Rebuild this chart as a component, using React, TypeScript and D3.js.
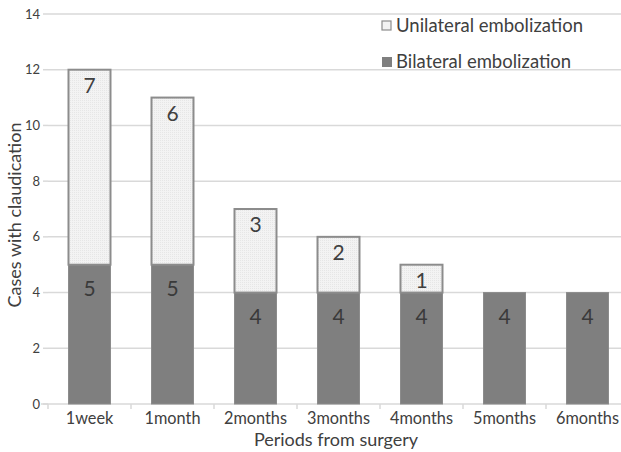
import * as d3 from 'd3';

const categories = ['1week', '1month', '2months', '3months', '4months', '5months', '6months'];
const bilateral = [5, 5, 4, 4, 4, 4, 4];
const unilateral = [7, 6, 3, 2, 1, 0, 0];
const yTicks = [0, 2, 4, 6, 8, 10, 12, 14];
const seriesNames = ['Unilateral embolization', 'Bilateral embolization'];

const W = 621;
const H = 452;
const FONT = 'Lato, "Open Sans", sans-serif';
const TEXT = '#404040';

export default function App() {
  const x = d3.scaleBand<string>().domain(categories).range([48, 629]).paddingInner(0.494).paddingOuter(0.247);
  const y = d3.scaleLinear().domain([0, 14]).range([404, 14]);

  const stacked = categories.map((c, i) => ({
    cat: c,
    segs: [
      { key: 'bi', y0: 0, y1: bilateral[i], v: bilateral[i] },
      { key: 'uni', y0: bilateral[i], y1: bilateral[i] + unilateral[i], v: unilateral[i] },
    ],
  }));

  const step = x.step();
  const start = x.range()[0];

  return (
    <svg width={W} height={H} style={{ position: 'absolute', left: 0, top: 0, background: '#fff' }}>
      <defs>
        <pattern id="dots" width="2" height="2" patternUnits="userSpaceOnUse">
          <rect width="2" height="2" fill="#f3f3f3" />
          <rect width="1" height="1" fill="#e6e6e6" />
        </pattern>
      </defs>
      {/* gridlines */}
      {yTicks.slice(1).map((t) => (
        <line key={t} x1={48} x2={W} y1={y(t)} y2={y(t)} stroke="#d9d9d9" strokeWidth={1.5} />
      ))}
      {yTicks.map((t) => (
        <g key={'t' + t}>
          <line x1={43} x2={48} y1={y(t)} y2={y(t)} stroke="#d9d9d9" strokeWidth={1.5} />
          <text x={40} y={y(t)} dy="0.35em" textAnchor="end" fontSize={13} fill={TEXT} fontFamily={FONT}>
            {t}
          </text>
        </g>
      ))}
      {/* x axis */}
      <line x1={41} x2={W} y1={y(0)} y2={y(0)} stroke="#d9d9d9" strokeWidth={1.5} />
      {categories.map((c, i) => (
        <line key={'xt' + c} x1={start + i * step} x2={start + i * step} y1={y(0)} y2={y(0) + 5} stroke="#d9d9d9" strokeWidth={1.5} />
      ))}
      {/* bars */}
      {stacked.map((d) =>
        d.segs
          .filter((s) => s.v > 0)
          .map((s) => {
            const top = y(s.y1);
            const bottom = y(s.y0);
            const dark = s.key === 'bi';
            return (
              <g key={d.cat + s.key}>
                <rect
                  x={x(d.cat)}
                  y={top}
                  width={x.bandwidth()}
                  height={bottom - top}
                  fill={dark ? '#7f7f7f' : 'url(#dots)'}
                  stroke="#8c8c8c"
                  strokeWidth={dark ? 1 : 2}
                />
                <text
                  x={(x(d.cat) ?? 0) + x.bandwidth() / 2}
                  y={top + (dark ? 24 : 16)}
                  dy="0.35em"
                  textAnchor="middle"
                  fontSize={21}
                  fill={dark ? '#3a3a3a' : TEXT}
                  fontFamily={FONT}
                >
                  {s.v}
                </text>
              </g>
            );
          })
      )}
      {categories.map((c) => (
        <text
          key={'xl' + c}
          x={(x(c) ?? 0) + x.bandwidth() / 2}
          y={418}
          dy="0.35em"
          textAnchor="middle"
          fontSize={16.3}
          fill={TEXT}
          fontFamily={FONT}
        >
          {c}
        </text>
      ))}
      <text x={336} y={440} dy="0.35em" textAnchor="middle" fontSize={18} fill={TEXT} fontFamily={FONT}>
        Periods from surgery
      </text>
      <text
        transform="translate(15,215) rotate(-90)"
        dy="0.35em"
        textAnchor="middle"
        fontSize={18}
        fill={TEXT}
        fontFamily={FONT}
      >
        Cases with claudication
      </text>
      {/* legend */}
      <rect x={382} y={21} width={9} height={9} fill="#f2f2f2" stroke="#8c8c8c" strokeWidth={1.2} />
      <text x={396} y={26} dy="0.35em" fontSize={18.5} fill={TEXT} fontFamily={FONT}>
        {seriesNames[0]}
      </text>
      <rect x={382} y={57} width={10} height={10} fill="#7f7f7f" />
      <text x={396} y={62} dy="0.35em" fontSize={18.5} fill={TEXT} fontFamily={FONT}>
        {seriesNames[1]}
      </text>
    </svg>
  );
}
